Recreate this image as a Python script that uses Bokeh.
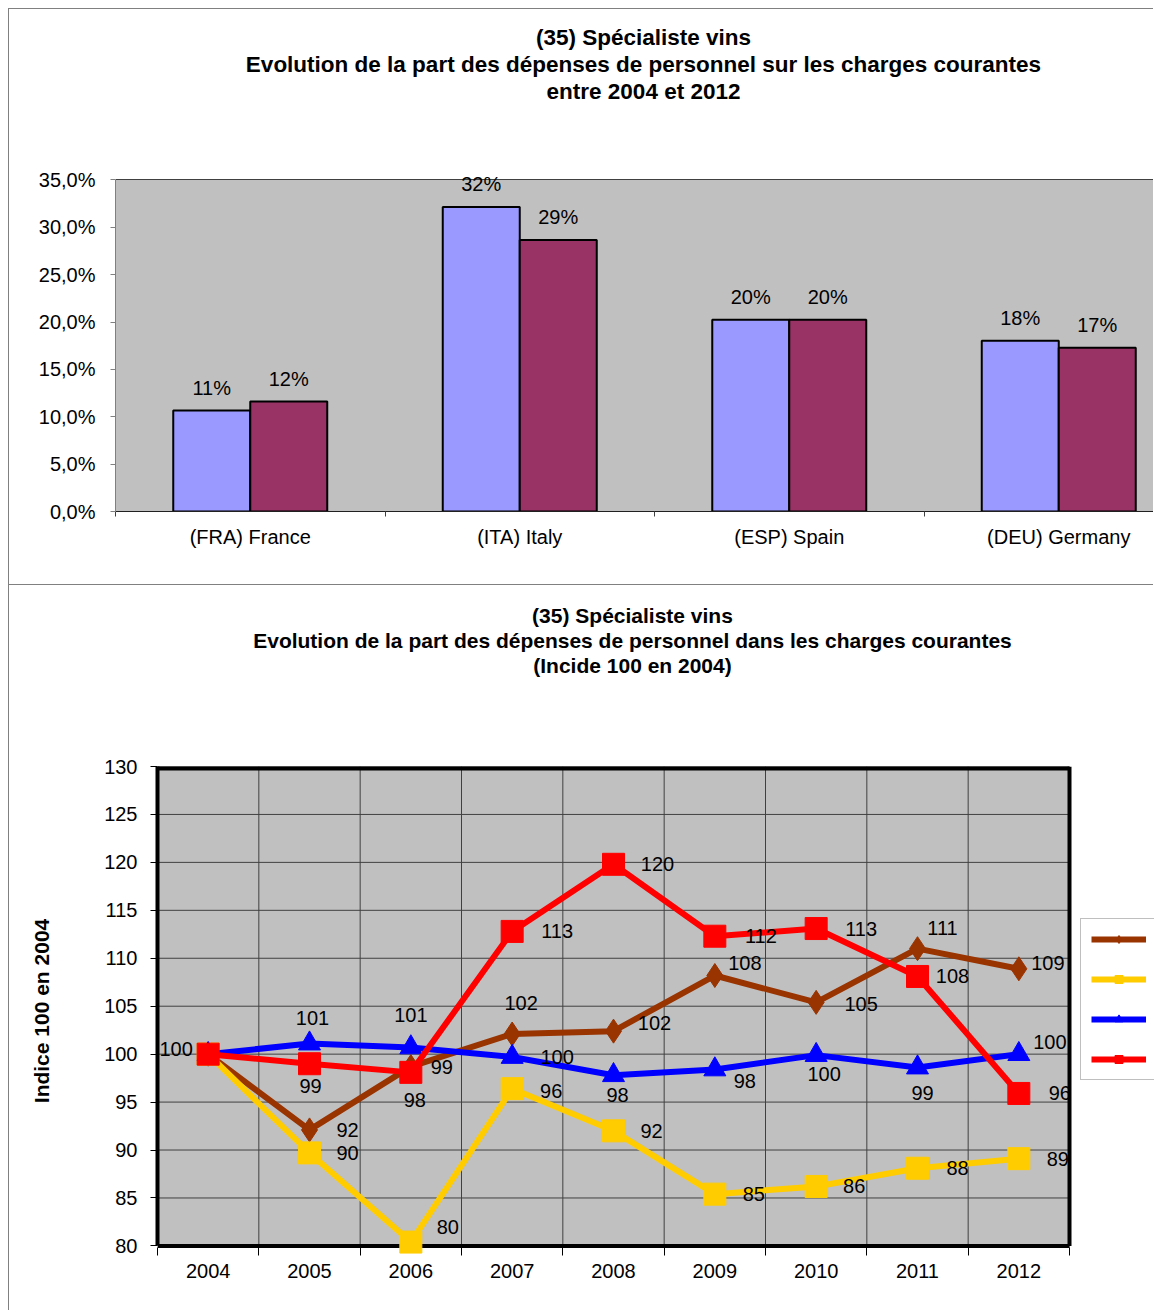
from bokeh.plotting import figure
from bokeh.models import ColumnDataSource, FixedTicker, Legend, LegendItem, Range1d, Title
from bokeh.embed import file_html
from bokeh.resources import INLINE
from bokeh.core.properties import value

FONT = "Liberation Sans"

# ---------------- data: bar chart ----------------
countries = ["(FRA) France", "(ITA) Italy", "(ESP) Spain", "(DEU) Germany"]
share_2004 = [10.65, 32.15, 20.24, 18.03]
share_2012 = [11.6, 28.67, 20.24, 17.29]
bar_y_ticks = [0, 5, 10, 15, 20, 25, 30, 35]

# ---------------- data: line chart ----------------
years = ["2004", "2005", "2006", "2007", "2008", "2009", "2010", "2011", "2012"]
serie_brown = [100, 92.1, 98.7, 102.1, 102.4, 108.2, 105.4, 111.0, 108.9]
serie_yellow = [100, 89.7, 80.4, 96.4, 92.0, 85.4, 86.2, 88.1, 89.1]
serie_blue = [100, 101.1, 100.7, 99.7, 97.8, 98.4, 99.9, 98.6, 100.0]
serie_red = [100, 99.0, 98.1, 112.8, 119.8, 112.3, 113.1, 108.1, 95.9]
line_y_ticks = [80, 85, 90, 95, 100, 105, 110, 115, 120, 125, 130]

titles_bar = ["(35) Spécialiste vins",
              "Evolution de la part des dépenses de personnel sur les charges courantes",
              "entre 2004 et 2012"]
titles_line = ["(35) Spécialiste vins",
               "Evolution de la part des dépenses de personnel dans les charges courantes",
               "(Incide 100 en 2004)"]

# label offsets (pixels, style only)
dx_brown = [-32, 38, 31, 9, 41, 30, 45, 25, 29]
dy_brown = [-5, 0, 0, -31, -8, -13, 2, -21, -6]
dx_yellow = [None, 38, 37, 39, 38, 39, 38, 40, 39]
dy_yellow = [None, 0, -15, 2, 0, 0, 0, 0, 0]
dx_blue = [None, 3, 0, 45, 4, 30, 8, 5, 31]
dy_blue = [None, -26, -32, 0, 20, 12, 19, 25, -12]
dx_red = [None, 1, 4, 45, 44, 46, 45, 35, 41]
dy_red = [None, 22, 28, 0, 0, 0, 0, 0, 0]

# Arial/Helvetica bold advance widths (1/1000 em) for centring the titles
BOLD_W = {'(': 333, ')': 333, ' ': 278, 'S': 667, 'E': 667, 'I': 278, 'p': 611, 'é': 556,
          'e': 556, 'c': 556, 'i': 278, 'a': 556, 'l': 278, 's': 556, 't': 333, 'v': 556,
          'n': 611, 'o': 611, 'u': 611, 'd': 611, 'r': 389, 'g': 611, 'h': 611}


def text_w(txt, size):
    return sum(BOLD_W.get(ch, 556) for ch in txt) * size / 1000.0


def add_titles(p, lines, size, center_x, frame_left, spacer_standoff):
    # invisible spacer between the frame and the title block
    p.add_layout(Title(text=" ", text_font=FONT, text_font_size=f"{size}px",
                       standoff=spacer_standoff), "above")
    for txt in reversed(lines):
        off = center_x - frame_left - text_w(txt, size) / 2
        p.add_layout(Title(text=txt, align="left", offset=off, text_font=FONT,
                           text_font_size=f"{size}px", text_font_style="bold",
                           text_color="black", standoff=0), "above")


BORDER = {"border-left": "1px solid #808080", "border-top": "1px solid #808080"}
W = 1145

# =============== Figure 1 : bars ===============
cat_px = 269.5
fl1 = 106
b_lo, b_hi = min(bar_y_ticks), max(bar_y_ticks)
x1_end = (W - fl1) / cat_px
p1 = figure(width=W, height=576, output_backend="svg", toolbar_location=None, title=None,
            x_range=Range1d(0, x1_end), y_range=Range1d(b_lo, b_hi + 1),
            min_border_left=fl1, min_border_right=0, min_border_top=161, min_border_bottom=74,
            background_fill_color="white", border_fill_color="white",
            outline_line_color=None, styles=BORDER, margin=(8, 0, 0, 8))
p1.quad(left=0, right=x1_end, bottom=b_lo, top=b_hi, fill_color="#C0C0C0", line_color=None)

centers = [i + 0.5 for i in range(len(countries))]
bw = 77 / cat_px
src1 = ColumnDataSource(dict(
    x1=[c - bw / 2 for c in centers], x2=[c + bw / 2 for c in centers],
    v1=share_2004, v2=share_2012,
    t1=[f"{v:.0f}%" for v in share_2004], t2=[f"{v:.0f}%" for v in share_2012]))
p1.vbar(x="x1", top="v1", bottom=0, width=bw, source=src1, fill_color="#9999FF",
        line_color="black", line_width=2)
p1.vbar(x="x2", top="v2", bottom=0, width=bw, source=src1, fill_color="#993366",
        line_color="black", line_width=2)
for xc, yc, tc in (("x1", "v1", "t1"), ("x2", "v2", "t2")):
    p1.text(x=xc, y=yc, text=tc, source=src1, y_offset=-23,
            text_align="center", text_baseline="middle", text_font=value(FONT),
            text_font_size="20px", text_color="black")

p1.xgrid.visible = False
p1.ygrid.ticker = FixedTicker(ticks=bar_y_ticks)
p1.ygrid.grid_line_color = "#404040"
p1.yaxis.ticker = FixedTicker(ticks=bar_y_ticks)
p1.yaxis.bounds = (b_lo, b_hi)
p1.yaxis.major_label_overrides = {t: f"{t:.1f}".replace(".", ",") + "%" for t in bar_y_ticks}
p1.yaxis.major_tick_out = 5
p1.yaxis.major_tick_in = 0
p1.yaxis.minor_tick_line_color = None
p1.yaxis.axis_line_color = "#808080"
p1.yaxis.major_tick_line_color = "#808080"
p1.yaxis.major_label_standoff = 15
p1.xaxis.ticker = FixedTicker(ticks=centers, minor_ticks=list(range(len(countries) + 1)))
p1.xaxis.major_label_overrides = {c: n for c, n in zip(centers, countries)}
p1.xaxis.major_tick_line_color = None
p1.xaxis.major_tick_out = 0
p1.xaxis.minor_tick_out = 5
p1.xaxis.minor_tick_in = 0
p1.xaxis.minor_tick_line_color = "#404040"
p1.xaxis.axis_line_color = "#202020"
p1.xaxis.major_label_standoff = 9
for ax in (p1.xaxis, p1.yaxis):
    ax.major_label_text_font = FONT
    ax.major_label_text_font_size = "20px"
    ax.major_label_text_color = "black"

add_titles(p1, titles_bar, 22.5, 634, fl1, 40)

# =============== Figure 2 : lines ===============
fl2 = 148
n = len(years)
cat_px2 = 912 / n
y_lo, y_hi = min(line_y_ticks), max(line_y_ticks)
p2 = figure(width=W, height=726, output_backend="svg", toolbar_location=None, title=None,
            x_range=Range1d(0, (W - fl2) / cat_px2), y_range=Range1d(y_lo - 1, y_hi),
            min_border_left=fl2, min_border_right=0, min_border_top=181, min_border_bottom=56,
            background_fill_color="white", border_fill_color="white",
            outline_line_color=None, styles=BORDER, margin=(0, 0, 0, 8))
p2.xgrid.visible = False
p2.ygrid.visible = False

# plot area (grey) + grid, limited to the category span
p2.quad(left=0, right=n, bottom=y_lo, top=y_hi, fill_color="#C0C0C0", line_color=None)
p2.segment(x0=list(range(1, n)), x1=list(range(1, n)), y0=y_lo, y1=y_hi,
           line_color="#404040", line_width=1)
p2.segment(x0=0, x1=n, y0=line_y_ticks, y1=line_y_ticks, line_color="#404040", line_width=1)
# thick frame
p2.segment(x0=0, x1=n, y0=y_hi, y1=y_hi, line_color="black", line_width=8)
p2.segment(x0=0, x1=n, y0=y_lo, y1=y_lo, line_color="black", line_width=4)
p2.segment(x0=n, x1=n, y0=y_lo, y1=y_hi, line_color="black", line_width=4)

xs = [i + 0.5 for i in range(n)]
series = [
    (serie_brown, "#993300", "diamond", 24, dx_brown, dy_brown),
    (serie_yellow, "#FFCC00", "square", 22, dx_yellow, dy_yellow),
    (serie_blue, "#0000FF", "triangle", 22, dx_blue, dy_blue),
    (serie_red, "#FF0000", "square", 22, dx_red, dy_red),
]
items = []
for vals, col, mk, sz, dxs, dys in series:
    s = ColumnDataSource(dict(x=xs, y=vals))
    ln = p2.line("x", "y", source=s, line_color=col, line_width=6)
    sc = p2.scatter("x", "y", source=s, marker=mk, size=sz, fill_color=col, line_color=col)
    items.append(LegendItem(label=" ", renderers=[ln, sc]))
for vals, col, mk, sz, dxs, dys in series:
    keep = [i for i in range(len(vals)) if dxs[i] is not None]
    ls = ColumnDataSource(dict(x=[xs[i] for i in keep], y=[vals[i] for i in keep],
                               t=[f"{vals[i]:.0f}" for i in keep],
                               dx=[dxs[i] for i in keep], dy=[dys[i] for i in keep]))
    p2.text(x="x", y="y", text="t", source=ls, x_offset="dx", y_offset="dy",
            text_align="center", text_baseline="middle", text_font=value(FONT),
            text_font_size="20px", text_color="black")

p2.yaxis.ticker = FixedTicker(ticks=line_y_ticks)
p2.yaxis.bounds = (y_lo, y_hi)
p2.yaxis.major_tick_out = 7
p2.yaxis.major_tick_in = 0
p2.yaxis.minor_tick_line_color = None
p2.yaxis.major_label_standoff = 13
p2.yaxis.axis_line_color = "black"
p2.yaxis.axis_line_width = 4
p2.yaxis.axis_label = "Indice 100 en 2004"
p2.yaxis.axis_label_text_font = FONT
p2.yaxis.axis_label_text_font_size = "21px"
p2.yaxis.axis_label_text_font_style = "bold"
p2.yaxis.axis_label_text_color = "black"
p2.yaxis.axis_label_standoff = 48
p2.xaxis.ticker = FixedTicker(ticks=xs, minor_ticks=list(range(n + 1)))
p2.xaxis.major_label_overrides = {x: y for x, y in zip(xs, years)}
p2.xaxis.major_tick_line_color = None
p2.xaxis.major_tick_out = 0
p2.xaxis.minor_tick_out = 0
p2.xaxis.minor_tick_in = 8
p2.xaxis.minor_tick_line_color = "black"
p2.xaxis.axis_line_color = None
p2.xaxis.major_label_standoff = 8
for ax in (p2.xaxis, p2.yaxis):
    ax.major_label_text_font = FONT
    ax.major_label_text_font_size = "20px"
    ax.major_label_text_color = "black"

legend = Legend(items=items, location=(923, 175), glyph_width=55, glyph_height=20,
                label_height=20, spacing=20, padding=10, label_standoff=4,
                border_line_color="#808080", border_line_width=1,
                background_fill_color="white", background_fill_alpha=1)
p2.add_layout(legend, "center")

add_titles(p2, titles_line, 21, 623, fl2, 65)

open("out.html", "w").write(file_html([p1, p2], INLINE))
